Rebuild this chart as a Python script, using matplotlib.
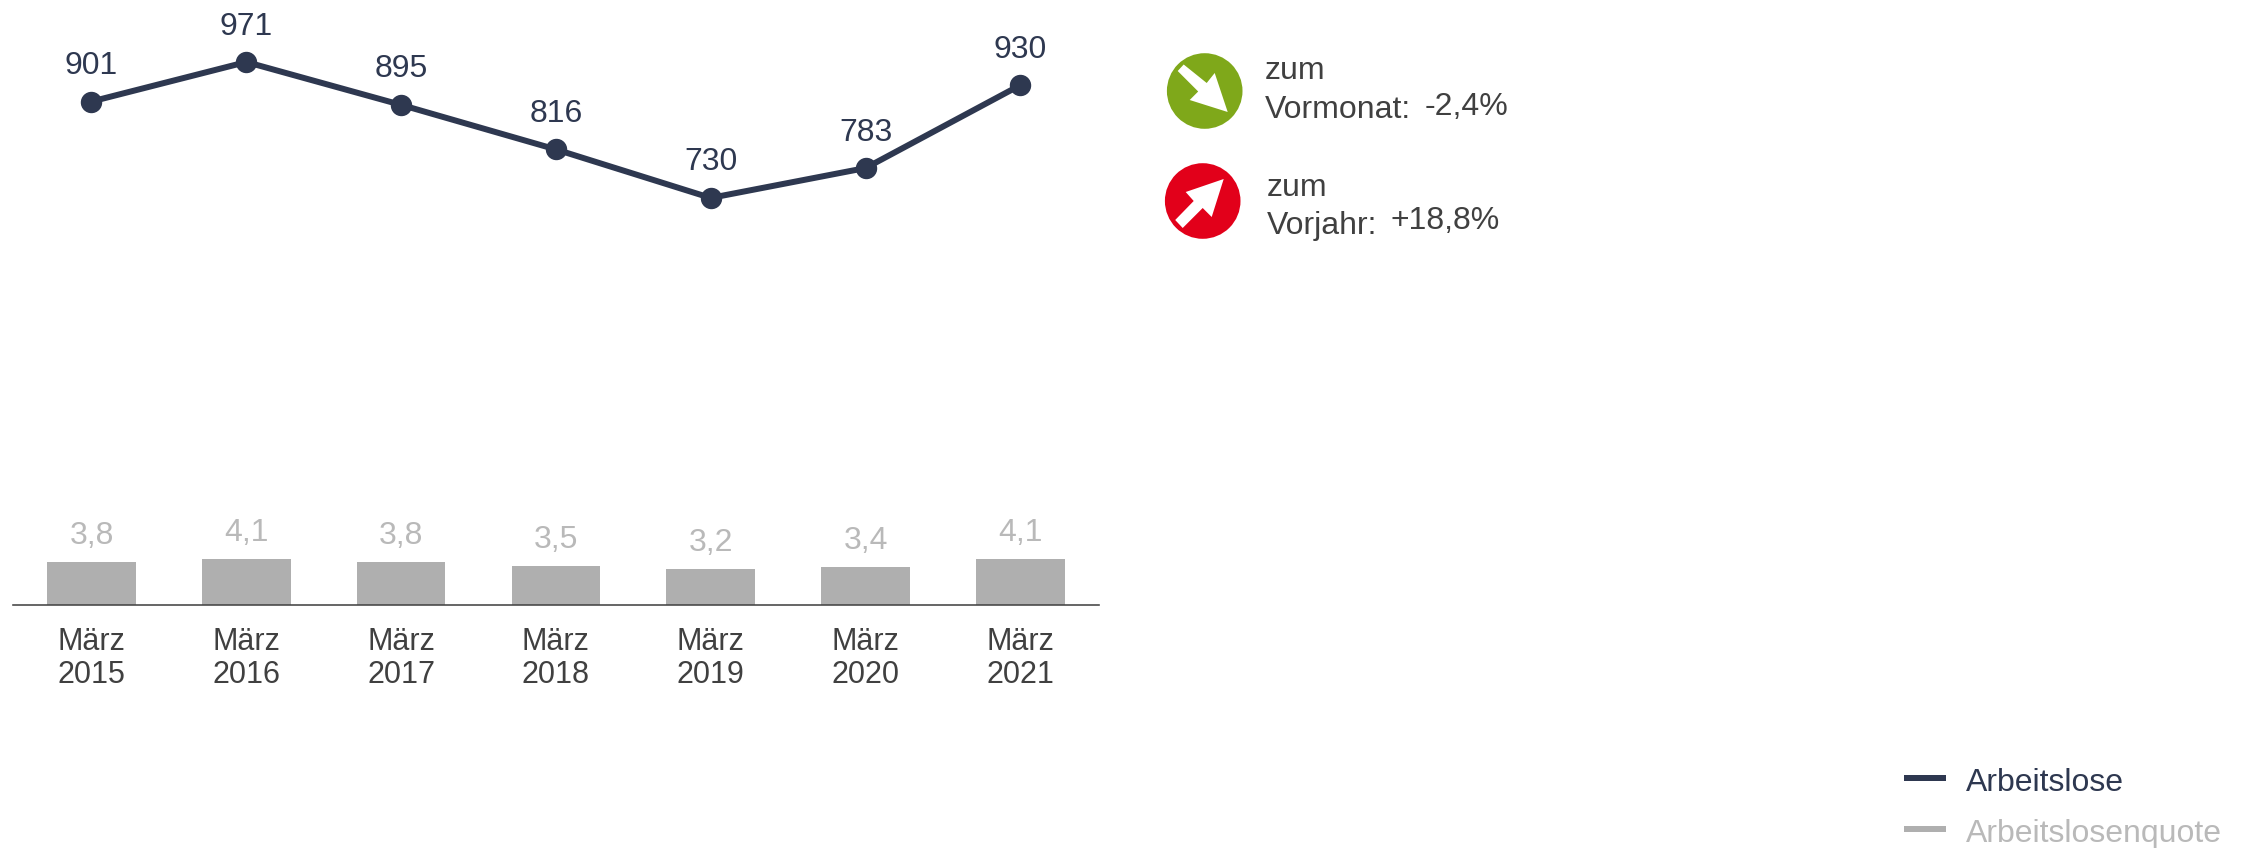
import matplotlib
matplotlib.use("Agg")
import matplotlib.pyplot as plt
from matplotlib.patches import Circle, Polygon

plt.rcParams["font.family"] = ["Liberation Sans", "DejaVu Sans"]

W, H = 2247, 848

# data
years = ["2015", "2016", "2017", "2018", "2019", "2020", "2021"]
month = "März"
arbeitslose = [901, 971, 895, 816, 730, 783, 930]
quote = [3.8, 4.1, 3.8, 3.5, 3.2, 3.4, 4.1]

NAVY = "#2e3850"
GREY = "#afafaf"
GREY_TXT = "#b9b9b9"
DARK = "#404040"
GREEN = "#7fa81a"
RED = "#e2001a"
FS = 23
FS_TICK = 22


def pt(px):
    return px * 72 / 100


fig = plt.figure(figsize=(W / 100, H / 100), dpi=100)

# bars and axis line
ax = fig.add_axes([13 / W, 1 - 604.5 / H, (1099 - 13) / W, 604.5 / H])
xs = list(range(len(years)))
ax.bar(xs, quote, width=0.572, color=GREY)
ax.set_xlim(-0.507, 6.508)
ax.set_ylim(0, 54.46)
ax.set_yticks([])
ax.set_xticks(xs, labels=[f"{month}\n{y}" for y in years])
ax.tick_params(axis="x", length=0, pad=pt(22), labelsize=FS_TICK, labelcolor=DARK)
for lab in ax.get_xticklabels():
    lab.set_linespacing(1.16)
for s in ["top", "left", "right"]:
    ax.spines[s].set_visible(False)
ax.spines["bottom"].set_color("#444444")
ax.spines["bottom"].set_linewidth(pt(1.6))
ax.patch.set_alpha(0)
for x, v in zip(xs, quote):
    ax.annotate(str(v).replace(".", ","), (x, v), xytext=(0, pt(18)),
                textcoords="offset points", ha="center", va="baseline",
                fontsize=FS, color=GREY_TXT)

# line on its own scale
ax2 = ax.twinx()
ax2.set_ylim(9, 1081)
ax2.set_yticks([])
for s in ax2.spines.values():
    s.set_visible(False)
ax2.plot(xs, arbeitslose, color=NAVY, lw=pt(6), marker="o", ms=pt(20), clip_on=False)
for x, v in zip(xs, arbeitslose):
    ax2.annotate(str(v), (x, v), xytext=(0, pt(27.5)),
                 textcoords="offset points", ha="center", va="baseline",
                 fontsize=FS, color=NAVY)

# overlay in pixel coordinates for the icons and the legend
ov = fig.add_axes([0, 0, 1, 1])
ov.set_xlim(0, W)
ov.set_ylim(H, 0)
ov.axis("off")
ov.patch.set_alpha(0)


def icon(cx, cy, color, pts):
    ov.add_patch(Circle((cx, cy), 37.8, color=color, lw=0))
    ov.add_patch(Polygon([(cx + a, cy + b) for a, b in pts], color="white", lw=0))


icon(1204.7, 91, GREEN, [(-21, -26.5), (2, -8), (10, -18), (23, 21), (-15, 9), (-6.5, 0.5), (-27, -20)])
icon(1202.7, 201, RED, [(-27.5, 19), (-9, 0), (-17, -9), (21, -22), (9, 16), (0, 7), (-20, 27)])

ov.text(1265, 79, "zum", fontsize=FS, color=DARK, va="baseline")
ov.text(1265, 117.7, "Vormonat:", fontsize=FS, color=DARK, va="baseline")
ov.text(1425, 115, "-2,4%", fontsize=FS, color=DARK, va="baseline")
ov.text(1267, 196, "zum", fontsize=FS, color=DARK, va="baseline")
ov.text(1267, 234, "Vorjahr:", fontsize=FS, color=DARK, va="baseline")
ov.text(1391, 229, "+18,8%", fontsize=FS, color=DARK, va="baseline")

ov.plot([1904, 1946], [777.7, 777.7], color=NAVY, lw=pt(6), solid_capstyle="butt")
ov.plot([1904, 1946], [829, 829], color=GREY, lw=pt(6), solid_capstyle="butt")
ov.text(1966, 790.7, "Arbeitslose", fontsize=FS, color=NAVY, va="baseline")
ov.text(1966, 841.7, "Arbeitslosenquote", fontsize=FS, color=GREY_TXT, va="baseline")

fig.savefig("out.png", dpi=100)
